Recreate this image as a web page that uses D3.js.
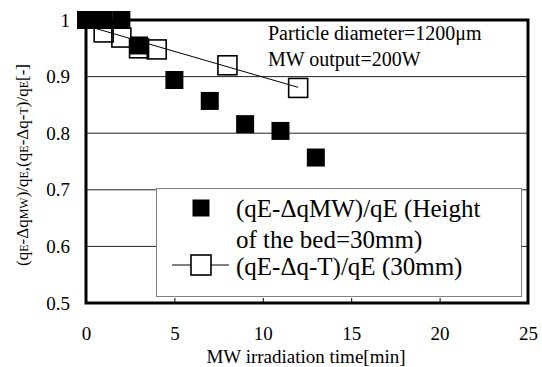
<!DOCTYPE html>
<html>
<head>
<meta charset="utf-8">
<script src="https://cdn.jsdelivr.net/npm/d3@7"></script>
<style>
  html, body { margin: 0; padding: 0; background: #fff; }
  svg { display: block; font-family: "Liberation Serif", "Times New Roman", serif; }
</style>
</head>
<body>
<svg id="chart" width="542" height="367"></svg>
<script>
// MW irradiation time [min] and normalised heat ratios
const timeMW = [0, 1, 2, 3, 5, 7, 9, 11, 13];
const ratioMW = [1.0, 1.0, 1.0, 0.955, 0.894, 0.857, 0.816, 0.804, 0.757];

const timeT = [1, 2, 3, 4, 8, 12];
const ratioT = [0.978, 0.969, 0.950, 0.948, 0.920, 0.880];

// straight trend line through the (qE-Δq-T)/qE points
const trendTime = [0, 12];
const trendRatio = [0.990, 0.881];

const xTicks = [0, 5, 10, 15, 20, 25];
const yTicks = [0.5, 0.6, 0.7, 0.8, 0.9, 1.0];

const legendLabels = ["(qE-ΔqMW)/qE (Height", "of the bed=30mm)", "(qE-Δq-T)/qE (30mm)"];
const noteLines = ["Particle diameter=1200μm", "MW output=200W"];
const xTitle = "MW irradiation time[min]";

const W = 542, H = 367;
const margin = { left: 86, top: 20, right: 14, bottom: 64 };
const svg = d3.select("#chart");

const x = d3.scaleLinear().domain([0, 25]).range([margin.left, W - margin.right]);
const y = d3.scaleLinear().domain([0.5, 1.0]).range([H - margin.bottom, margin.top]);

// horizontal grid lines
svg.append("g")
  .selectAll("line")
  .data(yTicks.filter(v => v > 0.5 && v < 1.0))
  .join("line")
  .attr("x1", x(0)).attr("x2", x(25))
  .attr("y1", d => y(d)).attr("y2", d => y(d))
  .attr("stroke", "#222").attr("stroke-width", 1);

// x axis (ticks point inward)
const xAxis = svg.append("g")
  .attr("transform", `translate(0,${y(0.5)})`)
  .call(d3.axisBottom(x).tickValues(xTicks).tickSize(-5).tickPadding(24).tickFormat(d3.format("d")));
xAxis.select(".domain").remove();
xAxis.selectAll(".tick line").attr("stroke", "#000").attr("stroke-width", 1);
xAxis.selectAll(".tick text").attr("font-size", 19).attr("fill", "#000")
  .style("font-family", "Liberation Serif");

// y axis labels
const yAxis = svg.append("g")
  .attr("transform", `translate(${x(0)},0)`)
  .call(d3.axisLeft(y).tickValues(yTicks).tickSize(0).tickPadding(16).tickFormat(d3.format(".1~f")));
yAxis.select(".domain").remove();
yAxis.selectAll(".tick text").attr("font-size", 19).attr("fill", "#000")
  .style("font-family", "Liberation Serif");

// plot frame
svg.append("rect")
  .attr("x", x(0)).attr("y", y(1.0))
  .attr("width", x(25) - x(0)).attr("height", y(0.5) - y(1.0))
  .attr("fill", "none").attr("stroke", "#000").attr("stroke-width", 3);

// trend line
const line = d3.line().x(d => x(d[0])).y(d => y(d[1]));
svg.append("path")
  .datum(d3.zip(trendTime, trendRatio))
  .attr("d", line)
  .attr("fill", "none").attr("stroke", "#000").attr("stroke-width", 1);

// open squares
const openSize = 19;
svg.append("g")
  .selectAll("rect")
  .data(d3.zip(timeT, ratioT))
  .join("rect")
  .attr("x", d => x(d[0]) - openSize / 2).attr("y", d => y(d[1]) - openSize / 2)
  .attr("width", openSize).attr("height", openSize)
  .attr("fill", "none").attr("stroke", "#000").attr("stroke-width", 1.6);

// filled squares
const fillSize = 18;
svg.append("g")
  .selectAll("rect")
  .data(d3.zip(timeMW, ratioMW))
  .join("rect")
  .attr("x", d => x(d[0]) - fillSize / 2).attr("y", d => y(d[1]) - fillSize / 2)
  .attr("width", fillSize).attr("height", fillSize)
  .attr("fill", "#000");

// condition note
svg.append("g")
  .selectAll("text")
  .data(noteLines)
  .join("text")
  .attr("x", 268).attr("y", (d, i) => 40 + i * 26)
  .attr("font-size", 20).attr("fill", "#000")
  .text(d => d);

// legend
const lg = svg.append("g");
lg.append("rect")
  .attr("x", 156.5).attr("y", 188.5).attr("width", 365).attr("height", 108)
  .attr("fill", "#fff").attr("stroke", "#808080").attr("stroke-width", 1);
lg.append("rect")
  .attr("x", 201 - 8.5).attr("y", 208 - 8.5).attr("width", 17).attr("height", 17)
  .attr("fill", "#000");
lg.append("line")
  .attr("x1", 172).attr("x2", 229).attr("y1", 265).attr("y2", 265)
  .attr("stroke", "#000").attr("stroke-width", 1);
lg.append("rect")
  .attr("x", 201 - 10).attr("y", 265 - 10).attr("width", 20).attr("height", 20)
  .attr("fill", "#fff").attr("stroke", "#000").attr("stroke-width", 1.6);
lg.selectAll("text")
  .data(legendLabels)
  .join("text")
  .attr("x", 236).attr("y", (d, i) => [217, 248, 275][i])
  .attr("font-size", 25).attr("fill", "#000")
  .text(d => d);

// axis titles
svg.append("text")
  .attr("x", 306).attr("y", 363)
  .attr("text-anchor", "middle").attr("font-size", 19).attr("fill", "#000")
  .text(xTitle);

// y title with small-size subscript letters
const yTitleParts = [
  ["(q", false], ["E", true], ["-Δq", false], ["MW", true], [")/q", false], ["E", true],
  [",(q", false], ["E", true], ["-Δq-", false], ["T", true], [")/q", false], ["E", true], ["[-]", false]
];
const yt = svg.append("text")
  .attr("transform", "translate(28,165) rotate(-90)")
  .attr("text-anchor", "middle").attr("font-size", 17).attr("fill", "#000");
yt.selectAll("tspan")
  .data(yTitleParts)
  .join("tspan")
  .attr("font-size", d => d[1] ? 12 : 17)
  .text(d => d[0]);
</script>
</body>
</html>
